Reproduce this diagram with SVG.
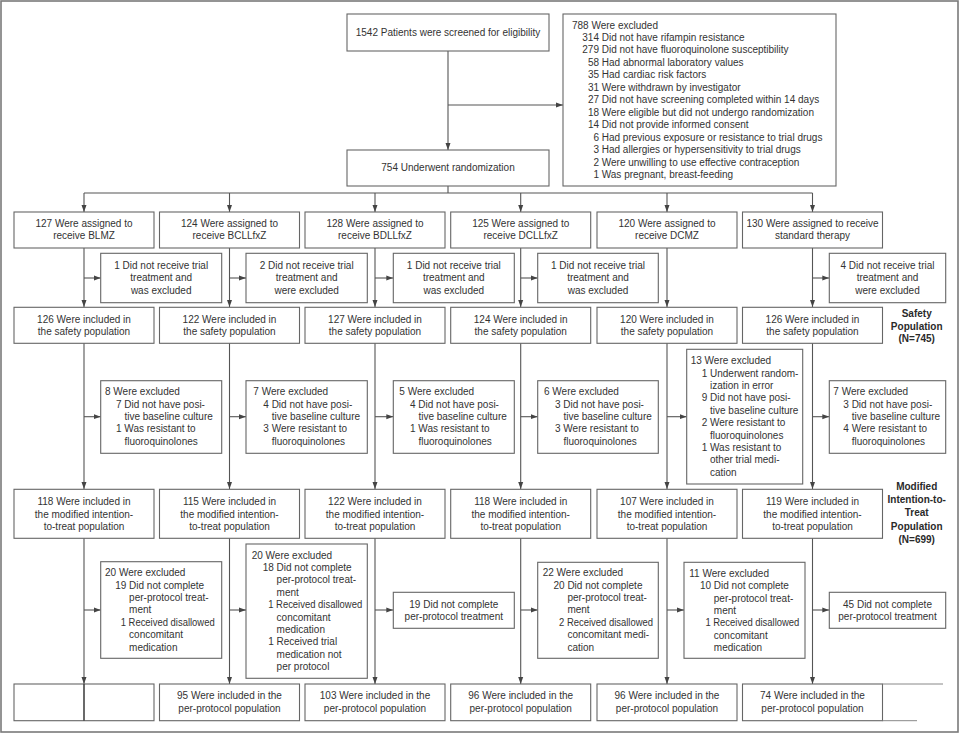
<svg xmlns="http://www.w3.org/2000/svg" width="960" height="734" viewBox="0 0 960 734">
<style>
text{font-family:"Liberation Sans",Arial,sans-serif;font-size:10px;fill:#333}
.c{text-anchor:middle}
.b{font-weight:bold;fill:#2a2a2a}
rect.n{fill:#fff;stroke:#666;stroke-width:1.1}
.ln{fill:none;stroke:#555;stroke-width:1.1}
</style>
<defs>
<marker id="ah" markerWidth="7" markerHeight="6" refX="7" refY="3" orient="auto" markerUnits="userSpaceOnUse"><path d="M0,0.5 L7,3 L0,5.5 z" fill="#444"/></marker>
</defs>
<rect x="1" y="1" width="957" height="731" fill="#fff" stroke="#7a7a7a" stroke-width="1.6"/>

<g id="connectors" class="ln">
<path d="M448,51 V150" marker-end="url(#ah)"/>
<path d="M448,105 H563" marker-end="url(#ah)"/>
<path d="M448,186 V193 M84,193 H812.5"/>
<path d="M84,193 V212" marker-end="url(#ah)"/>
<path d="M229.5,193 V212" marker-end="url(#ah)"/>
<path d="M375,193 V212" marker-end="url(#ah)"/>
<path d="M520.7,193 V212" marker-end="url(#ah)"/>
<path d="M667,193 V212" marker-end="url(#ah)"/>
<path d="M812.5,193 V212" marker-end="url(#ah)"/>
<path d="M84,248 V307" marker-end="url(#ah)"/>
<path d="M229.5,248 V307" marker-end="url(#ah)"/>
<path d="M375,248 V307" marker-end="url(#ah)"/>
<path d="M520.7,248 V307" marker-end="url(#ah)"/>
<path d="M667,248 V307" marker-end="url(#ah)"/>
<path d="M812.5,248 V307" marker-end="url(#ah)"/>
<path d="M84,278 H100.7" marker-end="url(#ah)"/>
<path d="M229.5,278 H246" marker-end="url(#ah)"/>
<path d="M375,278 H393.3" marker-end="url(#ah)"/>
<path d="M520.7,278 H537.7" marker-end="url(#ah)"/>
<path d="M812.5,278 H829.3" marker-end="url(#ah)"/>
<path d="M84,343 V489" marker-end="url(#ah)"/>
<path d="M229.5,343 V489" marker-end="url(#ah)"/>
<path d="M375,343 V489" marker-end="url(#ah)"/>
<path d="M520.7,343 V489" marker-end="url(#ah)"/>
<path d="M667,343 V489" marker-end="url(#ah)"/>
<path d="M812.5,343 V489" marker-end="url(#ah)"/>
<path d="M84,416.7 H100.7" marker-end="url(#ah)"/>
<path d="M229.5,416.7 H246" marker-end="url(#ah)"/>
<path d="M375,416.7 H393.3" marker-end="url(#ah)"/>
<path d="M520.7,416.7 H537.7" marker-end="url(#ah)"/>
<path d="M667,416.7 H686.7" marker-end="url(#ah)"/>
<path d="M812.5,416.7 H829.3" marker-end="url(#ah)"/>
<path d="M84,538 V684" marker-end="url(#ah)"/>
<path d="M229.5,538 V684" marker-end="url(#ah)"/>
<path d="M375,538 V684" marker-end="url(#ah)"/>
<path d="M520.7,538 V684" marker-end="url(#ah)"/>
<path d="M667,538 V684" marker-end="url(#ah)"/>
<path d="M812.5,538 V684" marker-end="url(#ah)"/>
<path d="M84,610 H100.7" marker-end="url(#ah)"/>
<path d="M229.5,610 H246" marker-end="url(#ah)"/>
<path d="M375,610 H393.3" marker-end="url(#ah)"/>
<path d="M520.7,610 H537.7" marker-end="url(#ah)"/>
<path d="M667,610 H684" marker-end="url(#ah)"/>
<path d="M812.5,610 H829.3" marker-end="url(#ah)"/>
</g>

<g id="screened"><rect class="n" x="347" y="14" width="202" height="37"/><text class="c" x="448" y="35.5">1542 Patients were screened for eligibility</text></g>

<g id="excluded-screening"><rect class="n" x="563" y="14" width="273" height="172"/>
<text x="572" y="28.5">788 Were excluded</text>
<text x="582.3" y="41">314 Did not have rifampin resistance</text>
<text x="582.3" y="53.4">279 Did not have fluoroquinolone susceptibility</text>
<text x="587.9" y="65.9">58 Had abnormal laboratory values</text>
<text x="587.9" y="78.3">35 Had cardiac risk factors</text>
<text x="587.9" y="90.8">31 Were withdrawn by investigator</text>
<text x="587.9" y="103.2">27 Did not have screening completed within 14 days</text>
<text x="587.9" y="115.7">18 Were eligible but did not undergo randomization</text>
<text x="587.9" y="128.1">14 Did not provide informed consent</text>
<text x="593.4" y="140.6">6 Had previous exposure or resistance to trial drugs</text>
<text x="593.4" y="153">3 Had allergies or hypersensitivity to trial drugs</text>
<text x="593.4" y="165.5">2 Were unwilling to use effective contraception</text>
<text x="593.4" y="177.9">1 Was pregnant, breast-feeding</text>
</g>

<g id="randomized"><rect class="n" x="347" y="150" width="202" height="36"/><text class="c" x="448" y="171">754 Underwent randomization</text></g>

<g id="assigned-blmz"><rect class="n" x="14" y="212" width="140" height="36"/><text class="c" x="84" y="227">127 Were assigned to</text><text class="c" x="84" y="239.3">receive BLMZ</text></g>
<g id="assigned-bcllfxz"><rect class="n" x="159.5" y="212" width="140" height="36"/><text class="c" x="229.5" y="227">124 Were assigned to</text><text class="c" x="229.5" y="239.3">receive BCLLfxZ</text></g>
<g id="assigned-bdllfxz"><rect class="n" x="305" y="212" width="140" height="36"/><text class="c" x="375" y="227">128 Were assigned to</text><text class="c" x="375" y="239.3">receive BDLLfxZ</text></g>
<g id="assigned-dcllfxz"><rect class="n" x="450.7" y="212" width="140" height="36"/><text class="c" x="520.7" y="227">125 Were assigned to</text><text class="c" x="520.7" y="239.3">receive DCLLfxZ</text></g>
<g id="assigned-dcmz"><rect class="n" x="597" y="212" width="140" height="36"/><text class="c" x="667" y="227">120 Were assigned to</text><text class="c" x="667" y="239.3">receive DCMZ</text></g>
<g id="assigned-standard"><rect class="n" x="742.5" y="212" width="140" height="36"/><text class="c" x="812.5" y="227">130 Were assigned to receive</text><text class="c" x="812.5" y="239.3">standard therapy</text></g>

<g id="notreated-1"><rect class="n" x="100.7" y="253.3" width="121" height="49.4"/><text class="c" x="161.2" y="268.5">1 Did not receive trial</text><text class="c" x="161.2" y="281">treatment and</text><text class="c" x="161.2" y="293.5">was excluded</text></g>
<g id="notreated-2"><rect class="n" x="246" y="253.3" width="121.3" height="49.4"/><text class="c" x="306.7" y="268.5">2 Did not receive trial</text><text class="c" x="306.7" y="281">treatment and</text><text class="c" x="306.7" y="293.5">were excluded</text></g>
<g id="notreated-3"><rect class="n" x="393.3" y="253.3" width="121" height="49.4"/><text class="c" x="453.8" y="268.5">1 Did not receive trial</text><text class="c" x="453.8" y="281">treatment and</text><text class="c" x="453.8" y="293.5">was excluded</text></g>
<g id="notreated-4"><rect class="n" x="537.7" y="253.3" width="120.6" height="49.4"/><text class="c" x="598" y="268.5">1 Did not receive trial</text><text class="c" x="598" y="281">treatment and</text><text class="c" x="598" y="293.5">was excluded</text></g>
<g id="notreated-6"><rect class="n" x="829.3" y="253.3" width="116.4" height="49.4"/><text class="c" x="887.5" y="268.5">4 Did not receive trial</text><text class="c" x="887.5" y="281">treatment and</text><text class="c" x="887.5" y="293.5">were excluded</text></g>

<g id="safety-1"><rect class="n" x="14" y="307.3" width="140" height="36"/><text class="c" x="84" y="322.5">126 Were included in</text><text class="c" x="84" y="335">the safety population</text></g>
<g id="safety-2"><rect class="n" x="159.5" y="307.3" width="140" height="36"/><text class="c" x="229.5" y="322.5">122 Were included in</text><text class="c" x="229.5" y="335">the safety population</text></g>
<g id="safety-3"><rect class="n" x="305" y="307.3" width="140" height="36"/><text class="c" x="375" y="322.5">127 Were included in</text><text class="c" x="375" y="335">the safety population</text></g>
<g id="safety-4"><rect class="n" x="450.7" y="307.3" width="140" height="36"/><text class="c" x="520.7" y="322.5">124 Were included in</text><text class="c" x="520.7" y="335">the safety population</text></g>
<g id="safety-5"><rect class="n" x="597" y="307.3" width="140" height="36"/><text class="c" x="667" y="322.5">120 Were included in</text><text class="c" x="667" y="335">the safety population</text></g>
<g id="safety-6"><rect class="n" x="742.5" y="307.3" width="140" height="36"/><text class="c" x="812.5" y="322.5">126 Were included in</text><text class="c" x="812.5" y="335">the safety population</text></g>

<g id="label-safety"><text class="c b" x="916.7" y="317">Safety</text><text class="c b" x="916.7" y="329.7">Population</text><text class="c b" x="916.7" y="342.4">(N=745)</text></g>

<g id="mitt-excl-1"><rect class="n" x="100.7" y="380.7" width="121" height="72.6"/>
<text x="105" y="395.2">8 Were excluded</text>
<text x="116" y="407.6">7 Did not have posi-</text>
<text x="124.4" y="420">tive baseline culture</text>
<text x="116" y="432.4">1 Was resistant to</text>
<text x="124.4" y="444.8">fluoroquinolones</text></g>
<g id="mitt-excl-2"><rect class="n" x="246" y="380.7" width="121.3" height="72.6"/>
<text x="253.3" y="395.2">7 Were excluded</text>
<text x="263.3" y="407.6">4 Did not have posi-</text>
<text x="271.7" y="420">tive baseline culture</text>
<text x="263.3" y="432.4">3 Were resistant to</text>
<text x="271.7" y="444.8">fluoroquinolones</text></g>
<g id="mitt-excl-3"><rect class="n" x="393.3" y="380.7" width="121" height="72.6"/>
<text x="399.3" y="395.2">5 Were excluded</text>
<text x="410" y="407.6">4 Did not have posi-</text>
<text x="418.4" y="420">tive baseline culture</text>
<text x="410" y="432.4">1 Was resistant to</text>
<text x="418.4" y="444.8">fluoroquinolones</text></g>
<g id="mitt-excl-4"><rect class="n" x="537.7" y="380.7" width="120.6" height="72.6"/>
<text x="544" y="395.2">6 Were excluded</text>
<text x="555" y="407.6">3 Did not have posi-</text>
<text x="563.4" y="420">tive baseline culture</text>
<text x="555" y="432.4">3 Were resistant to</text>
<text x="563.4" y="444.8">fluoroquinolones</text></g>
<g id="mitt-excl-5"><rect class="n" x="686.7" y="349.3" width="116" height="134.7"/>
<text x="690.7" y="364.2">13 Were excluded</text>
<text x="701.7" y="376.6">1 Underwent random-</text>
<text x="710" y="389">ization in error</text>
<text x="701.7" y="401.4">9 Did not have posi-</text>
<text x="710" y="413.8">tive baseline culture</text>
<text x="701.7" y="426.2">2 Were resistant to</text>
<text x="710" y="438.6">fluoroquinolones</text>
<text x="701.7" y="451">1 Was resistant to</text>
<text x="710" y="463.4">other trial medi-</text>
<text x="710" y="475.8">cation</text></g>
<g id="mitt-excl-6"><rect class="n" x="829.3" y="380.7" width="116.4" height="72.6"/>
<text x="833.3" y="395.2">7 Were excluded</text>
<text x="843.3" y="407.6">3 Did not have posi-</text>
<text x="851.7" y="420">tive baseline culture</text>
<text x="843.3" y="432.4">4 Were resistant to</text>
<text x="851.7" y="444.8">fluoroquinolones</text></g>

<g id="mitt-1"><rect class="n" x="14" y="489.3" width="140" height="49"/><text class="c" x="84" y="505.2">118 Were included in</text><text class="c" x="84" y="517.5">the modified intention-</text><text class="c" x="84" y="529.8">to-treat population</text></g>
<g id="mitt-2"><rect class="n" x="159.5" y="489.3" width="140" height="49"/><text class="c" x="229.5" y="505.2">115 Were included in</text><text class="c" x="229.5" y="517.5">the modified intention-</text><text class="c" x="229.5" y="529.8">to-treat population</text></g>
<g id="mitt-3"><rect class="n" x="305" y="489.3" width="140" height="49"/><text class="c" x="375" y="505.2">122 Were included in</text><text class="c" x="375" y="517.5">the modified intention-</text><text class="c" x="375" y="529.8">to-treat population</text></g>
<g id="mitt-4"><rect class="n" x="450.7" y="489.3" width="140" height="49"/><text class="c" x="520.7" y="505.2">118 Were included in</text><text class="c" x="520.7" y="517.5">the modified intention-</text><text class="c" x="520.7" y="529.8">to-treat population</text></g>
<g id="mitt-5"><rect class="n" x="597" y="489.3" width="140" height="49"/><text class="c" x="667" y="505.2">107 Were included in</text><text class="c" x="667" y="517.5">the modified intention-</text><text class="c" x="667" y="529.8">to-treat population</text></g>
<g id="mitt-6"><rect class="n" x="742.5" y="489.3" width="140" height="49"/><text class="c" x="812.5" y="505.2">119 Were included in</text><text class="c" x="812.5" y="517.5">the modified intention-</text><text class="c" x="812.5" y="529.8">to-treat population</text></g>

<g id="label-mitt"><text class="c b" x="916.7" y="490.2">Modified</text><text class="c b" x="916.7" y="503.3">Intention-to-</text><text class="c b" x="916.7" y="516.4">Treat</text><text class="c b" x="916.7" y="529.5">Population</text><text class="c b" x="916.7" y="542.6">(N=699)</text></g>

<g id="pp-excl-1"><rect class="n" x="100.7" y="561.7" width="121" height="96.6"/>
<text x="105" y="576.2">20 Were excluded</text>
<text x="115.2" y="588.6">19 Did not complete</text>
<text x="129.1" y="601">per-protocol treat-</text>
<text x="129.1" y="613.4">ment</text>
<text x="120.7" y="625.8" textLength="94" lengthAdjust="spacingAndGlyphs">1 Received disallowed</text>
<text x="129.1" y="638.2">concomitant</text>
<text x="129.1" y="650.6">medication</text></g>
<g id="pp-excl-2"><rect class="n" x="246" y="544" width="121.3" height="134.3"/>
<text x="251.7" y="558.5">20 Were excluded</text>
<text x="262.7" y="570.9">18 Did not complete</text>
<text x="276.6" y="583.3">per-protocol treat-</text>
<text x="276.6" y="595.7">ment</text>
<text x="268.2" y="608.1" textLength="94" lengthAdjust="spacingAndGlyphs">1 Received disallowed</text>
<text x="276.6" y="620.5">concomitant</text>
<text x="276.6" y="632.9">medication</text>
<text x="268.2" y="645.3">1 Received trial</text>
<text x="276.6" y="657.7">medication not</text>
<text x="276.6" y="670.1">per protocol</text></g>
<g id="pp-excl-3"><rect class="n" x="393.3" y="592.3" width="121" height="36"/><text class="c" x="453.8" y="607.5">19 Did not complete</text><text class="c" x="453.8" y="620.2">per-protocol treatment</text></g>
<g id="pp-excl-4"><rect class="n" x="537.7" y="562.3" width="120.6" height="96"/>
<text x="542.7" y="576.2">22 Were excluded</text>
<text x="553.5" y="588.6">20 Did not complete</text>
<text x="567.4" y="601">per-protocol treat-</text>
<text x="567.4" y="613.4">ment</text>
<text x="559" y="625.8" textLength="94" lengthAdjust="spacingAndGlyphs">2 Received disallowed</text>
<text x="567.4" y="638.2">concomitant medi-</text>
<text x="567.4" y="650.6">cation</text></g>
<g id="pp-excl-5"><rect class="n" x="684" y="562.3" width="121" height="96"/>
<text x="689.3" y="576.8">11 Were excluded</text>
<text x="699.9" y="589.2">10 Did not complete</text>
<text x="713.8" y="601.6">per-protocol treat-</text>
<text x="713.8" y="614">ment</text>
<text x="705.4" y="626.4" textLength="94" lengthAdjust="spacingAndGlyphs">1 Received disallowed</text>
<text x="713.8" y="638.8">concomitant</text>
<text x="713.8" y="651.2">medication</text></g>
<g id="pp-excl-6"><rect class="n" x="829.3" y="592.3" width="116.4" height="36"/><text class="c" x="887.5" y="607.5">45 Did not complete</text><text class="c" x="887.5" y="620.2">per-protocol treatment</text></g>

<g id="pp-1"><rect class="n" x="14" y="684" width="140" height="36.7"/><path d="M84,684 V720.7" stroke="#444" stroke-width="1.6"/></g>
<g id="pp-2"><rect class="n" x="159.5" y="684" width="140" height="36.7"/><text class="c" x="229.5" y="699.2">95 Were included in the</text><text class="c" x="229.5" y="711.8">per-protocol population</text></g>
<g id="pp-3"><rect class="n" x="305" y="684" width="140" height="36.7"/><text class="c" x="375" y="699.2">103 Were included in the</text><text class="c" x="375" y="711.8">per-protocol population</text></g>
<g id="pp-4"><rect class="n" x="450.7" y="684" width="140" height="36.7"/><text class="c" x="520.7" y="699.2">96 Were included in the</text><text class="c" x="520.7" y="711.8">per-protocol population</text></g>
<g id="pp-5"><rect class="n" x="597" y="684" width="140" height="36.7"/><text class="c" x="667" y="699.2">96 Were included in the</text><text class="c" x="667" y="711.8">per-protocol population</text></g>
<g id="pp-6"><rect class="n" x="742.5" y="684" width="140" height="36.7"/><text class="c" x="812.5" y="699.2">74 Were included in the</text><text class="c" x="812.5" y="711.8">per-protocol population</text><path d="M882.5,684 H943 M882.5,720.7 H917" stroke="#888" stroke-width="1"/></g>
</svg>
